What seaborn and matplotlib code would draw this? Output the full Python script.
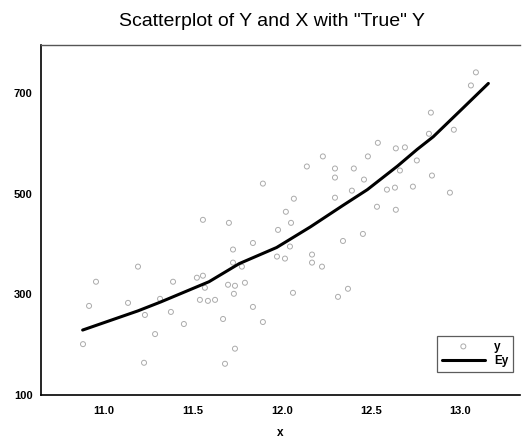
import matplotlib
matplotlib.use("Agg")
import matplotlib.pyplot as plt
import seaborn as sns
import pandas as pd

# Scatter data (x, y)
x_vals = [10.882, 10.916, 10.955, 11.135, 11.191, 11.225, 11.230, 11.287, 11.315, 11.376,
          11.388, 11.449, 11.522, 11.539, 11.556, 11.556, 11.567, 11.584, 11.624, 11.669,
          11.680, 11.697, 11.702, 11.725, 11.725, 11.730, 11.736, 11.736, 11.775, 11.792,
          11.837, 11.837, 11.893, 11.893, 11.972, 11.978, 12.017, 12.022, 12.045, 12.051,
          12.062, 12.067, 12.140, 12.169, 12.169, 12.225, 12.230, 12.298, 12.298, 12.298,
          12.315, 12.343, 12.371, 12.393, 12.404, 12.455, 12.461, 12.483, 12.534, 12.539,
          12.590, 12.635, 12.640, 12.640, 12.691, 12.663, 12.736, 12.758, 12.826, 12.837,
          12.843, 12.944, 12.966, 13.062, 13.090]
y_vals = [201, 277, 325, 283, 355, 164, 259, 221, 291, 265,
          325, 241, 333, 289, 448, 337, 313, 287, 289, 251,
          162, 319, 442, 389, 363, 301, 317, 192, 355, 323,
          402, 275, 520, 245, 375, 428, 371, 464, 395, 442,
          303, 490, 554, 379, 363, 355, 574, 550, 532, 492,
          295, 406, 311, 506, 550, 420, 528, 574, 474, 601,
          508, 512, 590, 468, 592, 546, 514, 566, 619, 661,
          536, 502, 627, 715, 741]

# "True" expected Y line
ey_x = [10.88, 11.19, 11.32, 11.59, 11.76, 11.97, 12.16, 12.34, 12.48, 12.65, 12.76, 12.85, 13.02, 13.16]
ey_y = [229, 267, 285, 325, 361, 393, 434, 476, 508, 555, 588, 613, 671, 719]

x_ticks = [11.0, 11.5, 12.0, 12.5, 13.0]
y_ticks = [100, 300, 500, 700]

sns.set_theme(style="white")
plt.rcParams['font.family'] = ['Liberation Sans', 'DejaVu Sans']

fig = plt.figure(figsize=(5.23, 4.43), dpi=100)
ax = fig.add_axes([0.0784, 0.1084, 0.9156, 0.7896])

df = pd.DataFrame({"x": x_vals, "y": y_vals})
dl = pd.DataFrame({"x": ey_x, "Ey": ey_y})

sns.scatterplot(data=df, x="x", y="y", ax=ax, s=13, marker="o",
                facecolors="none", edgecolor="#ababab", linewidth=0.7, label="y")
sns.lineplot(data=dl, x="x", y="Ey", ax=ax, color="black", linewidth=2.2,
             label="Ey", sort=False)

ax.set_xlim(10.646, 13.337)
ax.set_ylim(100, 795)
ax.set_xticks(x_ticks)
ax.set_xticklabels([f"{v:.1f}" for v in x_ticks], fontweight="bold", fontsize=8, color="black")
ax.set_yticks(y_ticks)
ax.set_yticklabels([str(v) for v in y_ticks], fontweight="bold", fontsize=8, color="black")
ax.tick_params(axis="x", direction="in", length=3, width=0.8, pad=8, colors="black")
ax.tick_params(axis="y", direction="out", length=2, width=0.8, pad=4, colors="black")
ax.set_xlabel("x", fontweight="bold", fontsize=8.5, labelpad=8, color="black")
ax.set_ylabel("")

for side in ["left", "bottom"]:
    ax.spines[side].set_color("black")
    ax.spines[side].set_linewidth(1.2)
ax.spines["top"].set_color("#555555")
ax.spines["top"].set_linewidth(1.0)
ax.spines["right"].set_visible(False)

ax.set_title('Scatterplot of Y and X with "True" Y', fontsize=14, pad=14,
             color="black", x=0.482)

leg = ax.legend(loc="lower right", bbox_to_anchor=(0.998, 0.05), frameon=True,
                fancybox=False, edgecolor="#333333", fontsize=8.5,
                handlelength=3.6, borderpad=0.4, labelspacing=0.2, markerfirst=True)
leg.get_frame().set_linewidth(0.9)
for t in leg.get_texts():
    t.set_fontweight("bold")
    t.set_color("black")

fig.savefig("out.png", dpi=100)
